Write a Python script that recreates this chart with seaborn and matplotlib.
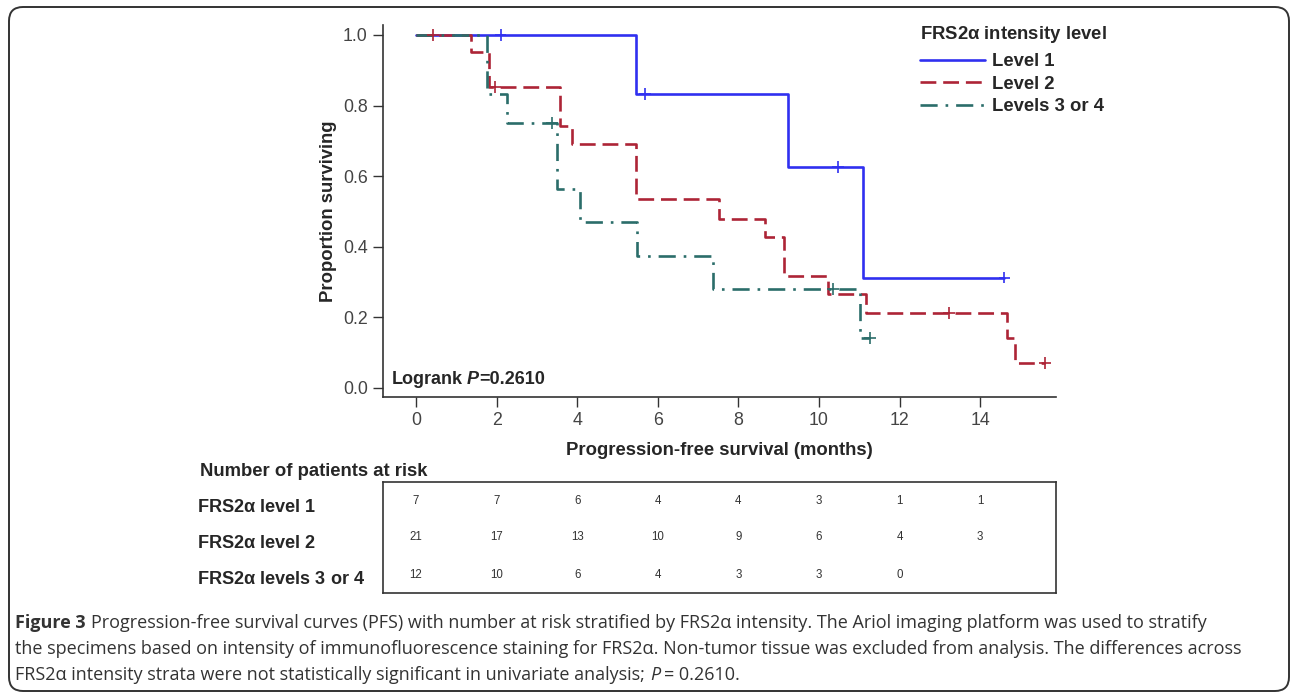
import pandas as pd
import matplotlib
matplotlib.use('Agg')
import matplotlib.pyplot as plt
import seaborn as sns
from matplotlib.patches import FancyBboxPatch
from matplotlib.lines import Line2D
from matplotlib.transforms import IdentityTransform

sns.set_theme(style='white')
plt.rcParams['font.family'] = ['Liberation Sans', 'DejaVu Sans']
plt.rcParams['mathtext.fontset'] = 'dejavusans'
plt.rcParams['mathtext.default'] = 'regular'

# grupos e cores
grupos = ['Level 1', 'Level 2', 'Levels 3 or 4']
cores = {'Level 1': '#3030f0', 'Level 2': '#ad2436', 'Levels 3 or 4': '#2b6d6a'}
tracos = {'Level 1': '', 'Level 2': (6.0, 2.6), 'Levels 3 or 4': (6.5, 3.0, 1.0, 3.0)}

# curvas de Kaplan-Meier (degraus)
tempo_n1 = [0, 5.45, 9.22, 11.1, 14.6]
surv_n1 = [1.0, 0.833, 0.625, 0.3125, 0.3125]
tempo_n2 = [0, 1.36, 1.81, 3.57, 3.87, 5.47, 7.52, 8.66, 9.12, 10.22, 11.17, 14.67, 14.86, 15.6]
surv_n2 = [1.0, 0.952, 0.853, 0.742, 0.69, 0.535, 0.48, 0.427, 0.318, 0.266, 0.212, 0.141, 0.071, 0.071]
tempo_n3 = [0, 1.76, 2.26, 3.5, 4.07, 5.48, 7.37, 11.02, 11.27]
surv_n3 = [1.0, 0.833, 0.75, 0.5625, 0.469, 0.375, 0.281, 0.141, 0.141]

# censuras
cens_t_n1 = [2.1, 5.68, 10.47, 14.6]
cens_s_n1 = [1.0, 0.833, 0.625, 0.3125]
cens_t_n2 = [0.42, 1.97, 13.22, 15.6]
cens_s_n2 = [1.0, 0.853, 0.212, 0.071]
cens_t_n3 = [3.37, 10.35, 11.27]
cens_s_n3 = [0.75, 0.281, 0.141]

# tabela de pacientes em risco
meses = [0, 2, 4, 6, 8, 10, 12, 14]
risco_n1 = [7, 7, 6, 4, 4, 3, 1, 1]
risco_n2 = [21, 17, 13, 10, 9, 6, 4, 3]
risco_n3 = [12, 10, 6, 4, 3, 3, 0]
rotulos_risco = ['FRS2$\\alpha$ level 1', 'FRS2$\\alpha$ level 2', 'FRS2$\\alpha$ levels 3 or 4']

yticks = [0.0, 0.2, 0.4, 0.6, 0.8, 1.0]

curvas = pd.concat([
    pd.DataFrame({'tempo': t, 'surv': s, 'grupo': g})
    for t, s, g in zip([tempo_n1, tempo_n2, tempo_n3], [surv_n1, surv_n2, surv_n3], grupos)
], ignore_index=True)
censuras = pd.concat([
    pd.DataFrame({'tempo': t, 'surv': s, 'grupo': g})
    for t, s, g in zip([cens_t_n1, cens_t_n2, cens_t_n3], [cens_s_n1, cens_s_n2, cens_s_n3], grupos)
], ignore_index=True)

W, H = 1292, 693
fig = plt.figure(figsize=(W / 100, H / 100), dpi=100)
fig.patch.set_facecolor('white')

ax = fig.add_axes([383 / W, 1 - 397 / H, (1056 - 383) / W, (397 - 25) / H])
sns.lineplot(data=curvas, x='tempo', y='surv', hue='grupo', style='grupo', palette=cores,
             dashes=tracos, drawstyle='steps-post', estimator=None, sort=False,
             linewidth=1.9, legend=False, ax=ax)
sns.scatterplot(data=censuras, x='tempo', y='surv', hue='grupo', palette=cores, marker='+',
                s=70, linewidth=1.2, legend=False, ax=ax, zorder=5)

ax.set_xlim(-0.82, 15.88)
ax.set_ylim(-0.0255, 1.028)
ax.set_xticks(meses)
ax.set_yticks(yticks)
ax.set_yticklabels([f'{v:.1f}' for v in yticks])
sns.despine(ax=ax)
for lado in ['left', 'bottom']:
    ax.spines[lado].set_color('#333333')
    ax.spines[lado].set_linewidth(1.2)
ax.tick_params(direction='out', length=7, width=1, color='#333333', labelsize=12.8,
               labelcolor='#444444', pad=4, left=True, bottom=True)
ax.set_xlabel('Progression-free survival (months)', fontsize=13.3, fontweight='bold', labelpad=9)
ax.set_ylabel('Proportion surviving', fontsize=13.3, fontweight='bold', labelpad=4)
ax.grid(False)

# Logrank
t1 = ax.text(-0.6, 0.0, 'Logrank', fontsize=13, fontweight='bold', va='bottom', ha='left')
t2 = ax.annotate('P', xy=(1, 0), xycoords=t1, xytext=(4, 0), textcoords='offset pixels',
                 fontsize=13, fontweight='bold', fontstyle='italic', va='bottom', ha='left')
ax.annotate('=0.2610', xy=(1, 0), xycoords=t2, fontsize=13, fontweight='bold', va='bottom', ha='left')

# legenda
handles = [Line2D([0], [0], color=cores[g], linewidth=1.9,
                  linestyle='-' if tracos[g] == '' else (0, tracos[g])) for g in grupos]
leg = fig.legend(handles, grupos, loc='upper left', bbox_to_anchor=(920 / W, 1 - 24 / H),
                 frameon=False, title='FRS2$\\alpha$ intensity level', alignment='left',
                 prop={'weight': 'bold', 'size': 13.3}, title_fontproperties={'weight': 'bold', 'size': 13.3},
                 handlelength=3.5, handletextpad=0.4, labelspacing=0.3, borderpad=0, borderaxespad=0)
leg._legend_box.sep = 6

# tabela de risco
ax_t = fig.add_axes([383 / W, 1 - 593 / H, (1056 - 383) / W, (593 - 482) / H])
ax_t.set_xlim(ax.get_xlim())
ax_t.set_ylim(0, 3)
ax_t.set_xticks([])
ax_t.set_yticks([])
for sp in ax_t.spines.values():
    sp.set_visible(True)
    sp.set_color('#333333')
    sp.set_linewidth(1.2)
for linha, valores in enumerate([risco_n1, risco_n2, risco_n3]):
    for m, v in zip(meses, valores):
        ax_t.text(m, 2.5 - linha, str(v), fontsize=8.3, color='#333333', ha='center', va='center')

fig.text(200 / W, 1 - 472 / H, 'Number of patients at risk', fontsize=13.3, fontweight='bold', va='center')
for i, (rot, yp) in enumerate(zip(rotulos_risco, [507, 543, 579])):
    fig.text(197 / W, 1 - yp / H, rot, fontsize=13.1, fontweight='bold', va='center')

# legenda da figura
fonte_cap = ['Open Sans', 'DejaVu Sans']
cor_cap = '#333333'
tam_cap = 13.0
ax_fig = fig.add_axes([0, 0, 1, 1])
ax_fig.set_axis_off()
c1 = fig.text(15 / W, 1 - 628 / H, 'Figure 3', fontsize=tam_cap, fontweight='bold', family=fonte_cap, color=cor_cap)
ax_fig.annotate('Progression-free survival curves (PFS) with number at risk stratified by FRS2\u03b1 intensity. '
                'The Ariol imaging platform was used to stratify',
                xy=(1, 0), xycoords=c1, xytext=(5, 0), textcoords='offset pixels', va='bottom',
                fontsize=tam_cap, family=fonte_cap, color=cor_cap)
fig.text(15 / W, 1 - 654 / H,
         'the specimens based on intensity of immunofluorescence staining for FRS2\u03b1. Non-tumor tissue '
         'was excluded from analysis. The differences across',
         fontsize=tam_cap, family=fonte_cap, color=cor_cap)
c3 = fig.text(15 / W, 1 - 680 / H,
              'FRS2\u03b1 intensity strata were not statistically significant in univariate analysis;',
              fontsize=tam_cap, family=fonte_cap, color=cor_cap)
c4 = ax_fig.annotate('P', xy=(1, 0), xycoords=c3, xytext=(5, 0), textcoords='offset pixels', va='bottom',
                     fontsize=tam_cap, family=fonte_cap, color=cor_cap, fontstyle='italic')
ax_fig.annotate('= 0.2610.', xy=(1, 0), xycoords=c4, xytext=(4, 0), textcoords='offset pixels', va='bottom',
                fontsize=tam_cap, family=fonte_cap, color=cor_cap)

# moldura arredondada
moldura = FancyBboxPatch((9, 2), 1280, 684, boxstyle='round,pad=0,rounding_size=14',
                         transform=IdentityTransform(), facecolor='none', edgecolor='#333333',
                         linewidth=1.4)
fig.patches.append(moldura)

fig.savefig('out.png', dpi=100)
